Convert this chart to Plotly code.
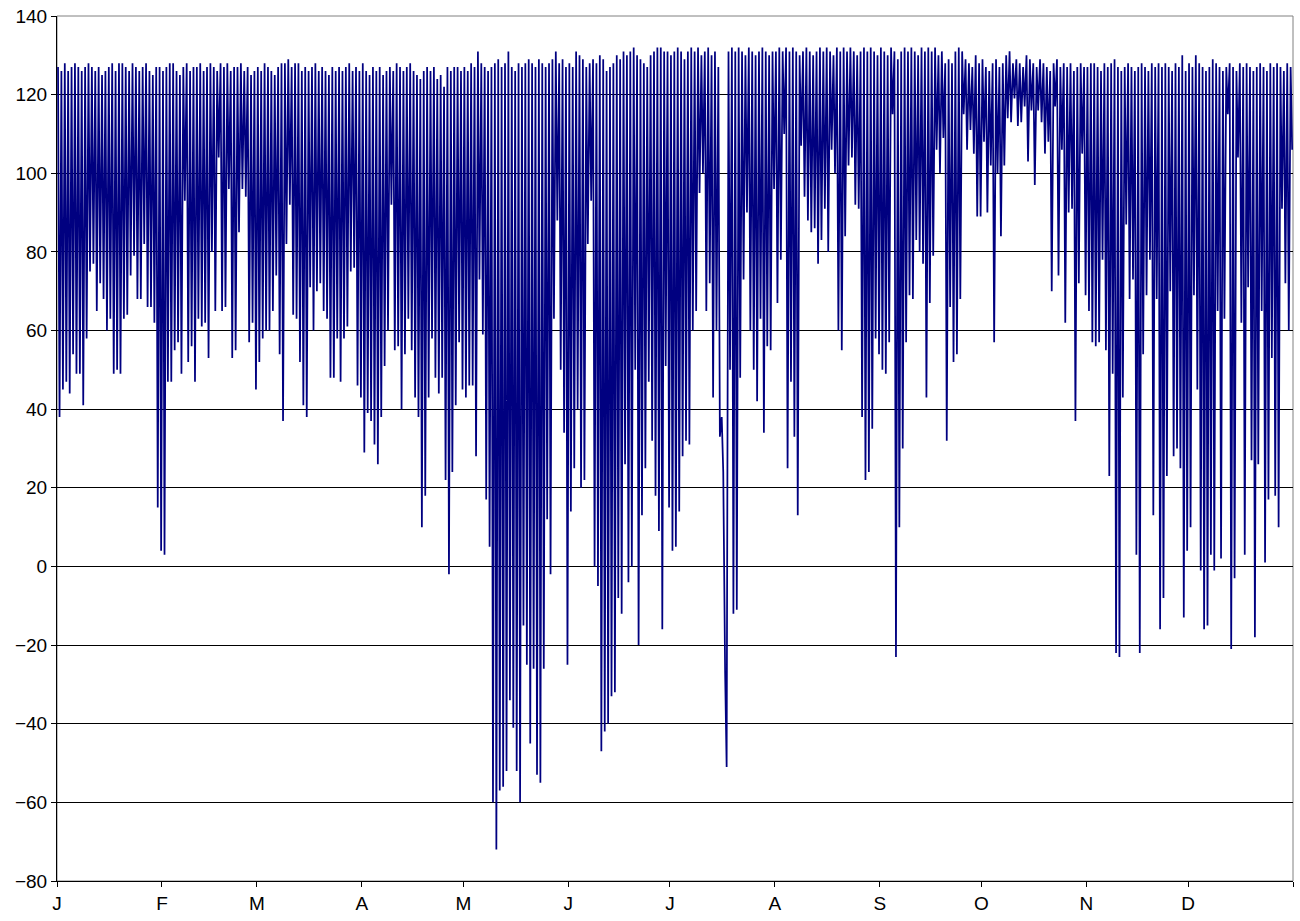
import plotly.graph_objects as go

month_labels = ["J", "F", "M", "A", "M", "J", "J", "A", "S", "O", "N", "D"]
month_days = [31, 28, 31, 30, 31, 30, 31, 31, 30, 31, 30, 31]

# daily minimum values
low_jan = [38, 45, 47, 44, 54, 49, 49, 41, 58, 75, 77, 65, 72, 68, 60, 63, 49, 50, 49, 63, 64, 74, 79, 68, 68, 82, 66, 66, 62, 15, 4]
low_feb = [3, 47, 47, 55, 57, 49, 93, 52, 56, 47, 63, 61, 62, 53, 80, 65, 104, 65, 66, 96, 53, 55, 85, 96, 94, 57, 62, 45]
low_mar = [52, 58, 60, 60, 65, 74, 54, 37, 82, 92, 64, 63, 52, 41, 38, 71, 60, 70, 72, 65, 63, 48, 48, 58, 47, 58, 61, 75, 76, 46, 43]
low_apr = [29, 39, 37, 31, 26, 38, 51, 60, 92, 55, 56, 40, 54, 63, 55, 43, 38, 10, 18, 43, 58, 48, 44, 48, 22, -2, 24, 41, 57, 45]
low_may = [43, 46, 46, 28, 73, 59, 17, 5, -60, -72, -57, -56, -52, -34, -41, -52, -60, -15, -25, -45, -26, -53, -55, -26, 12, -2, 63, 88, 50, 34, -25]
low_jun = [14, 25, 40, 20, 22, 82, 93, 0, -5, -47, -42, -40, -33, -32, -8, -12, 26, -4, 0, 50, -20, 13, 25, 47, 32, 18, 9, -16, 51, 15]
low_jul = [4, 5, 14, 28, 32, 31, 60, 65, 95, 100, 65, 72, 43, 60, 33, 24, -51, 50, -12, -11, 48, 73, 90, 60, 50, 42, 63, 34, 56, 55, 96]
low_aug = [67, 78, 110, 25, 47, 33, 13, 107, 94, 88, 85, 86, 77, 83, 91, 80, 106, 100, 60, 55, 84, 102, 104, 92, 91, 38, 22, 24, 35, 58, 54]
low_sep = [50, 49, 57, 115, -23, 10, 30, 57, 69, 68, 83, 80, 77, 43, 67, 79, 106, 100, 109, 32, 66, 52, 54, 68, 115, 106, 111, 105, 89, 89]
low_oct = [108, 90, 102, 57, 100, 84, 102, 114, 113, 119, 112, 113, 117, 103, 116, 97, 116, 113, 105, 108, 70, 117, 74, 106, 62, 90, 91, 37, 72, 105, 69]
low_nov = [65, 57, 56, 57, 78, 55, 23, 49, -22, -23, 43, 87, 68, 73, 3, -22, 54, 69, 78, 13, 68, -16, -8, 23, 70, 28, 30, 25, -13, 4]
low_dec = [10, 69, 45, -1, -16, -15, 3, -1, 65, 2, 63, 115, -21, -3, 104, 62, 3, 71, 27, -18, 26, 65, 1, 17, 53, 18, 10, 91, 72, 60, 106]

# daily maximum values
high_jan = [127, 126, 128, 126, 127, 128, 127, 126, 127, 128, 127, 126, 127, 125, 126, 127, 128, 126, 128, 128, 127, 126, 128, 127, 126, 127, 128, 126, 125, 127, 127]
high_feb = [126, 127, 128, 128, 126, 125, 127, 128, 126, 127, 127, 128, 126, 127, 128, 127, 126, 128, 127, 128, 126, 127, 127, 128, 126, 127, 125, 126]
high_mar = [127, 126, 128, 127, 126, 125, 127, 128, 128, 129, 127, 128, 128, 126, 127, 126, 127, 128, 126, 127, 126, 125, 127, 126, 127, 126, 127, 128, 126, 127, 126]
high_apr = [128, 126, 125, 127, 126, 127, 125, 126, 127, 126, 128, 127, 126, 127, 128, 126, 125, 124, 126, 127, 126, 127, 124, 125, 122, 127, 126, 127, 127, 126]
high_may = [127, 126, 128, 127, 131, 128, 127, 126, 127, 128, 129, 127, 128, 131, 127, 126, 128, 127, 128, 129, 128, 127, 129, 128, 127, 128, 129, 131, 128, 129, 127]
high_jun = [128, 127, 131, 130, 129, 127, 128, 129, 128, 130, 129, 126, 127, 128, 130, 129, 131, 130, 131, 132, 130, 129, 128, 127, 130, 131, 132, 132, 131, 131]
high_jul = [130, 131, 132, 131, 129, 131, 132, 131, 132, 130, 131, 132, 130, 131, 127, 38, -27, 131, 132, 131, 132, 131, 130, 132, 131, 130, 131, 132, 131, 130, 131]
high_aug = [131, 132, 131, 132, 131, 132, 131, 130, 131, 132, 131, 130, 131, 132, 131, 132, 131, 130, 132, 131, 132, 131, 132, 131, 130, 131, 132, 131, 132, 131, 130]
high_sep = [132, 131, 130, 132, 131, 129, 131, 132, 131, 132, 131, 130, 132, 131, 132, 131, 132, 130, 131, 128, 129, 128, 131, 132, 131, 129, 128, 127, 130, 128]
high_oct = [129, 127, 126, 128, 129, 127, 128, 130, 131, 128, 129, 128, 127, 130, 129, 128, 127, 129, 128, 127, 126, 128, 129, 127, 128, 127, 128, 126, 127, 128, 127]
high_nov = [127, 128, 128, 127, 126, 128, 127, 128, 129, 127, 126, 127, 128, 127, 126, 127, 128, 127, 126, 128, 127, 128, 127, 128, 127, 126, 128, 127, 130, 126]
high_dec = [128, 127, 130, 128, 127, 126, 127, 129, 128, 127, 126, 127, 128, 127, 126, 128, 127, 128, 127, 126, 127, 128, 127, 126, 128, 127, 128, 127, 126, 128, 127]

lows = [low_jan, low_feb, low_mar, low_apr, low_may, low_jun,
        low_jul, low_aug, low_sep, low_oct, low_nov, low_dec]
highs = [high_jan, high_feb, high_mar, high_apr, high_may, high_jun,
         high_jul, high_aug, high_sep, high_oct, high_nov, high_dec]

xs, ys = [], []
start = 0
month_starts = []
for m in range(12):
    month_starts.append(start)
    n = month_days[m]
    hi, lo = highs[m], lows[m]
    k = min(len(hi), len(lo))
    step = n / k
    for i in range(k):
        d = start + i * step
        xs.append(d + 0.3 * step)
        ys.append(hi[i])
        xs.append(d + 0.75 * step)
        ys.append(lo[i])
    start += n
month_starts.append(start)

fig = go.Figure()
fig.add_trace(go.Scatter(x=xs, y=ys, mode="lines",
                         line=dict(color="#000080", width=1.75),
                         hoverinfo="skip", showlegend=False))

font = dict(family="Liberation Sans, Arial, sans-serif", size=19, color="black")

fig.update_layout(
    width=1300, height=921,
    margin=dict(l=57, r=7, t=16, b=40),
    paper_bgcolor="white", plot_bgcolor="white",
    font=font,
    showlegend=False,
    xaxis=dict(range=[0, 365], tickmode="array",
               tickvals=month_starts, ticktext=month_labels + [""],
               showgrid=False, zeroline=False,
               showline=True, linecolor="black", linewidth=1,
               ticks="outside", ticklen=5, tickcolor="black",
               tickfont=font),
    yaxis=dict(range=[-80, 140], tickmode="array",
               tickvals=list(range(-80, 141, 20)),
               showgrid=True, gridcolor="black", gridwidth=1,
               zeroline=False,
               showline=True, linecolor="black", linewidth=1,
               ticks="outside", ticklen=5, tickcolor="black",
               tickfont=font),
    shapes=[dict(type="rect", xref="paper", yref="paper", x0=0, x1=1, y0=0, y1=1,
                 line=dict(color="#808080", width=1), layer="below")],
)

fig.write_html("out.html")
